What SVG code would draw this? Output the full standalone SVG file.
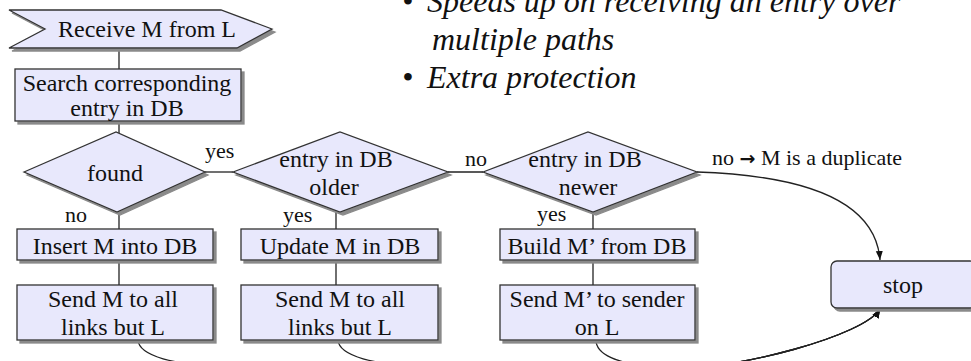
<svg xmlns="http://www.w3.org/2000/svg" width="971" height="361" viewBox="0 0 971 361">
<style>
.n{fill:#e8e8fc;stroke:#333;stroke-width:1.3}
.t{font-size:24px;fill:#111;text-anchor:middle}
.l{font-size:22px;fill:#111}
.b{font-size:32px;font-style:italic;fill:#111}
.c{fill:none;stroke:#222;stroke-width:1.3}
</style>
<defs>
<filter id="sh" x="-5%" y="-5%" width="115%" height="125%">
<feFlood flood-color="#8a8a8a"/>
<feComposite operator="in" in2="SourceAlpha"/>
<feOffset dx="3" dy="3" result="s"/>
<feMerge><feMergeNode in="s"/><feMergeNode in="SourceGraphic"/></feMerge>
</filter>
<marker id="ah" markerWidth="10" markerHeight="10" refX="9" refY="5" orient="auto" markerUnits="userSpaceOnUse">
<path d="M0,1.5 L9,5 L0,8.5 Z" fill="#111"/>
</marker>
</defs>
<g font-family="'Liberation Serif', Tinos, 'Times New Roman', 'DejaVu Serif', serif">

<g id="bullets">
<text class="b" x="402" y="12">•</text>
<text class="b" x="427" y="12">Speeds up on receiving an entry over</text>
<text class="b" x="432" y="50">multiple paths</text>
<text class="b" x="402" y="88">•</text>
<text class="b" x="427" y="88">Extra protection</text>
</g>

<g id="connectors">
<line class="c" x1="119" y1="48" x2="119" y2="69"/>
<line class="c" x1="119" y1="121" x2="119" y2="133"/>
<line class="c" x1="205" y1="172" x2="233" y2="172"/>
<line class="c" x1="448" y1="172" x2="483" y2="172"/>
<line class="c" x1="119" y1="212" x2="119" y2="229"/>
<line class="c" x1="336" y1="212" x2="336" y2="229"/>
<line class="c" x1="593" y1="212" x2="593" y2="229"/>
<line class="c" x1="119" y1="260" x2="119" y2="285"/>
<line class="c" x1="336" y1="260" x2="336" y2="285"/>
<line class="c" x1="593" y1="260" x2="593" y2="285"/>
<path class="c" d="M697,172 C790,175 875,195 880,260" marker-end="url(#ah)"/>
<path class="c" d="M138,340 C139,356 170,364 240,370 L660,370 C740,370 865,335 880,309" marker-end="url(#ah)"/>
<path class="c" d="M338,340 C339,356 370,364 440,370 L660,370 C740,370 865,335 880,309" marker-end="url(#ah)"/>
<path class="c" d="M596,340 C596,355 615,362 660,370 C740,370 865,335 880,309" marker-end="url(#ah)"/>
<text class="l" x="205" y="158">yes</text>
<text class="l" x="65" y="222">no</text>
<text class="l" x="283" y="222">yes</text>
<text class="l" x="465" y="166">no</text>
<text class="l" x="537" y="221">yes</text>
<text class="l" x="712" y="165">no <tspan font-family="'DejaVu Sans', sans-serif" font-weight="bold" font-size="19">→</tspan> M is a duplicate</text>
</g>

<g id="receive">
<polygon class="n" filter="url(#sh)" points="9,10 221,10 272,29 237,48 9,48 45,29"/>
<text class="t" x="147" y="37">Receive M from L</text>
</g>

<g id="search">
<rect class="n" filter="url(#sh)" x="15" y="69" width="226" height="52"/>
<text class="t" x="127" y="91">Search corresponding</text>
<text class="t" x="127" y="116">entry in DB</text>
</g>

<g id="found">
<polygon class="n" filter="url(#sh)" points="24,172 116,132 205,172 117,212"/>
<text class="t" x="115" y="181">found</text>
</g>

<g id="older">
<polygon class="n" filter="url(#sh)" points="233,172 340,132 448,172 340,212"/>
<text class="t" x="336" y="167">entry in DB</text>
<text class="t" x="334" y="195">older</text>
</g>

<g id="newer">
<polygon class="n" filter="url(#sh)" points="483,172 588,132 697,172 593,212"/>
<text class="t" x="585" y="167">entry in DB</text>
<text class="t" x="588" y="195">newer</text>
</g>

<g id="insert">
<rect class="n" filter="url(#sh)" x="17" y="229" width="196" height="31"/>
<text class="t" x="115" y="254">Insert M into DB</text>
</g>

<g id="update">
<rect class="n" filter="url(#sh)" x="241" y="229" width="197" height="31"/>
<text class="t" x="340" y="254">Update M in DB</text>
</g>

<g id="build">
<rect class="n" filter="url(#sh)" x="500" y="229" width="195" height="31"/>
<text class="t" x="597" y="254">Build M’ from DB</text>
</g>

<g id="send1">
<rect class="n" filter="url(#sh)" x="17" y="285" width="196" height="55"/>
<text class="t" x="113" y="307">Send M to all</text>
<text class="t" x="113" y="335">links but L</text>
</g>

<g id="send2">
<rect class="n" filter="url(#sh)" x="241" y="285" width="197" height="55"/>
<text class="t" x="340" y="307">Send M to all</text>
<text class="t" x="340" y="335">links but L</text>
</g>

<g id="send3">
<rect class="n" filter="url(#sh)" x="500" y="285" width="195" height="55"/>
<text class="t" x="597" y="307">Send M’ to sender</text>
<text class="t" x="597" y="335">on L</text>
</g>

<g id="stop">
<rect class="n" filter="url(#sh)" x="831" y="261" width="145" height="47" rx="6" ry="6"/>
<text class="t" x="903" y="293">stop</text>
</g>
</g>
</svg>
